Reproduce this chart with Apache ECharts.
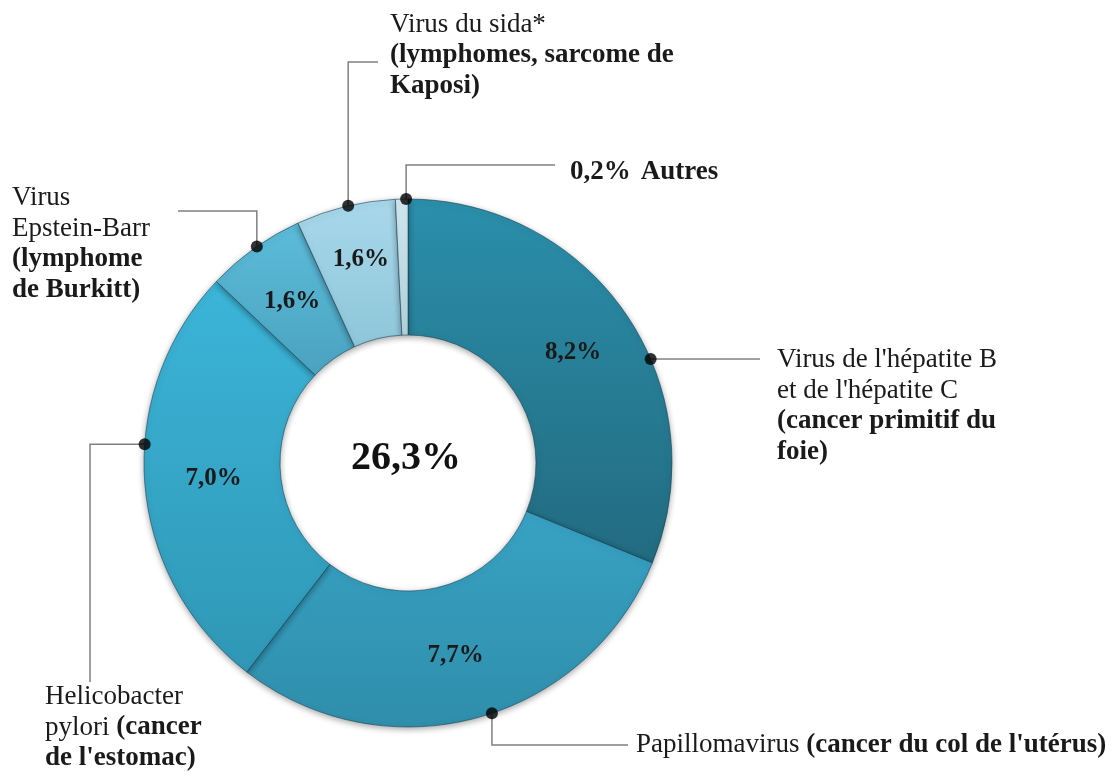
<!DOCTYPE html>
<html><head><meta charset="utf-8">
<script src="https://cdn.jsdelivr.net/npm/echarts@6/dist/echarts.min.js"></script>
<style>html,body{margin:0;padding:0;background:#fff}#c{width:1111px;height:776px}</style>
</head><body><div id="c"></div>
<script>
// ---- data ----
const categories = ["Virus de l'hépatite B et de l'hépatite C", "Papillomavirus", "Helicobacter pylori", "Virus Epstein-Barr", "Virus du sida*", "Autres"];
const values = [8.2, 7.7, 7.0, 1.6, 1.6, 0.2];
const totalLabel = "26,3%";
const labelTexts = [
  "{n|Virus de l'hépatite B}\n{n|et de l'hépatite C}\n{b|(cancer primitif du}\n{b|foie)}",
  "{n|Papillomavirus }{b|(cancer du col de l'utérus)}",
  "{n|Helicobacter}\n{n|pylori }{b|(cancer}\n{b|de l'estomac)}",
  "{n|Virus}\n{n|Epstein-Barr}\n{b|(lymphome}\n{b|de Burkitt)}",
  "{n|Virus du sida*}\n{b|(lymphomes, sarcome de}\n{b|Kaposi)}",
  "{b|%v}   {b|Autres}"
];

// ---- style / layout ----
const colorsTop = ['#2b8fab', '#38a2c4', '#3bb5d8', '#5cbcd9', '#a8d8ea', '#d3e8ef'];
const colorsBottom = ['#226b80', '#2f8eab', '#3097b6', '#4aa3c0', '#8fc6da', '#b5d5e0'];
const CX = 408, CY = 463, R_IN = 128, R_OUT = 264;
const FONT = '"Liberation Serif", "DejaVu Serif", serif';
// where along each slice (0..1) the callout dot sits
const anchorFrac = [0.595, 0.467, 0.589, 0.53, 0.527, 0.85];
// small nudges of the in-slice percentage labels
const innerOffsets = [[0, 0], [-4, 0], [4, 0], [0, 0], [0, -10], [0, 0]];
const placements = [
  { x: 777, y: 344, va: 'top', mode: 'h', endX: 760 },
  { x: 636, y: 745, va: 'middle', mode: 'vh', turnY: 745, endX: 628 },
  { x: 45, y: 681, va: 'top', mode: 'hv', turnX: 90, endY: 682 },
  { x: 12, y: 182, va: 'top', mode: 'vh', turnY: 211, endX: 178 },
  { x: 390, y: 9, va: 'top', mode: 'vh', turnY: 62, endX: 378 },
  { x: 570, y: 172, va: 'middle', mode: 'vh', turnY: 165, endX: 555 }
];

const total = values.reduce((a, b) => a + b, 0);
const fmt = v => v.toFixed(1).replace('.', ',') + '%';
const anchors = [];
{ let c = 0; values.forEach((v, i) => { anchors.push(c + v * anchorFrac[i]); c += v; }); }

function edgePoint(i) {
  const ang = (90 - 360 * anchors[i] / total) * Math.PI / 180;
  return [CX + R_OUT * Math.cos(ang), CY - R_OUT * Math.sin(ang)];
}

const pieData = categories.map((name, i) => ({
  name, value: values[i],
  itemStyle: {
    color: new echarts.graphic.LinearGradient(0, 0, 0, 1, [
      { offset: 0, color: colorsTop[i] }, { offset: 1, color: colorsBottom[i] }
    ])
  },
  label: { show: values[i] >= 1, offset: innerOffsets[i] }
}));

const labelData = categories.map((name, i) => ({ name, value: values[i] }));

const chart = echarts.init(document.getElementById('c'), null, { renderer: 'canvas' });
chart.setOption({
  backgroundColor: '#ffffff',
  animation: false,
  polar: { center: [CX, CY], radius: R_OUT },
  angleAxis: { type: 'value', min: 0, max: total, startAngle: 90, clockwise: true, show: false },
  radiusAxis: { type: 'value', min: 0, max: 1, show: false },
  graphic: [{
    type: 'text', left: CX - 57, top: CY - 24, z: 10,
    style: { text: totalLabel, font: 'bold 40px ' + FONT, fill: '#111' }
  }],
  series: [
    {
      type: 'pie', center: [CX, CY], radius: [R_IN, R_OUT], startAngle: 90, clockwise: true,
      avoidLabelOverlap: false, silent: true,
      itemStyle: { borderColor: 'rgba(20,60,80,0.55)', borderWidth: 1, shadowBlur: 6, shadowColor: 'rgba(0,0,0,0.35)', shadowOffsetY: 2 },
      label: {
        position: 'inside', formatter: p => fmt(p.value),
        fontFamily: FONT, fontWeight: 'bold', fontSize: 25, color: '#1a1a1a'
      },
      labelLine: { show: false },
      data: pieData
    },
    {
      type: 'pie', center: [CX, CY], radius: [R_IN, R_OUT], startAngle: 90, clockwise: true,
      avoidLabelOverlap: false, silent: true, z: 3,
      itemStyle: { color: 'rgba(0,0,0,0)' },
      label: {
        position: 'outside',
        formatter: p => labelTexts[p.dataIndex].replace('%v', fmt(p.value)),
        rich: {
          n: { fontFamily: FONT, fontSize: 27, lineHeight: 31, color: '#1a1a1a' },
          b: { fontFamily: FONT, fontSize: 27, lineHeight: 31, fontWeight: 'bold', color: '#1a1a1a' }
        }
      },
      labelLine: { show: true, lineStyle: { color: '#808080', width: 1.5 } },
      labelLayout: function (params) {
        const i = params.dataIndex;
        const pl = placements[i];
        const s = edgePoint(i);
        let pts;
        if (pl.mode === 'h') pts = [s, [pl.endX, s[1]]];
        else if (pl.mode === 'vh') pts = [s, [s[0], pl.turnY], [pl.endX, pl.turnY]];
        else pts = [s, [pl.turnX, s[1]], [pl.turnX, pl.endY]];
        return { x: pl.x, y: pl.y, align: 'left', verticalAlign: pl.va, labelLinePoints: pts };
      },
      data: labelData
    },
    {
      type: 'scatter', coordinateSystem: 'polar', clip: false, z: 5, silent: true,
      symbol: 'circle', symbolSize: 12, itemStyle: { color: '#000' },
      data: anchors.map(a => [1, a])
    }
  ]
});
</script></body></html>
